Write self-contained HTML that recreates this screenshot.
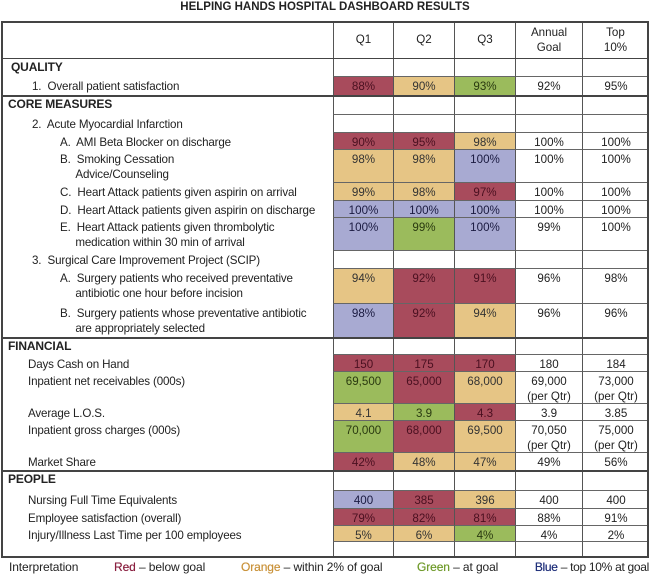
<!DOCTYPE html>
<html><head><meta charset="utf-8">
<style>
body{margin:0;background:#fff;font-family:"Liberation Sans",Arial,sans-serif;color:#222;}
#page{position:relative;width:650px;height:574px;overflow:hidden;}
.c{position:absolute;box-sizing:border-box;font-size:11.6px;line-height:15px;}
.v{text-align:center;padding-top:2px;border-right:1px solid #555;border-bottom:1px solid #666;}
.lbl{padding-top:2px;white-space:nowrap;letter-spacing:-0.15px;}
.hl{position:absolute;background:#444;}
.leg{position:absolute;top:560px;font-size:12px;white-space:nowrap;letter-spacing:-0.1px;}
</style></head><body>
<div id="page">
<div class="c" style="left:0;top:0;width:650px;text-align:center;font-weight:bold;font-size:11.5px;line-height:14px;">HELPING HANDS HOSPITAL DASHBOARD RESULTS</div>
<div id="tbl" style="position:absolute;left:1px;top:21px;width:648px;height:537px;border:2px solid #444;box-sizing:border-box;"></div>
<div class="leg" style="left:9px;">Interpretation</div>
<div class="leg" style="left:114px;"><b style="color:#8a2040;font-weight:normal;text-shadow:0 0 0.4px #8a2040">Red</b> – below goal</div>
<div class="leg" style="left:241px;"><b style="color:#c9923a;font-weight:normal;text-shadow:0 0 0.4px #c9923a">Orange</b> – within 2% of goal</div>
<div class="leg" style="left:417px;"><b style="color:#6f9a2a;font-weight:normal;text-shadow:0 0 0.4px #6f9a2a">Green</b> – at goal</div>
<div class="leg" style="right:1px;letter-spacing:-0.3px;"><b style="color:#1f2f7a;font-weight:normal;text-shadow:0 0 0.4px #1f2f7a">Blue</b> – top 10% at goal</div>
</div>
<script>
const colX=[333,394,455,516,583,649];
const colors={R:'#a84b5c',O:'#e6c585',G:'#9bbb5c',B:'#a8aad2',W:'#fff'};
const txtCol={R:'#4a1020',O:'#333',G:'#2a3a10',B:'#1a1a40',W:'#222'};
// [label, indentX, top, bottom, sectionHeader, values, cellColors, goal, top10]
const rows=[
['QUALITY',11,59,77,1,['','',''],'WWW','',''],
['1.&nbsp; Overall patient satisfaction',32,77,96,0,['88%','90%','93%'],'ROG','92%','95%'],
['CORE MEASURES',8,96,115,1,['','',''],'WWW','',''],
['2.&nbsp; Acute Myocardial Infarction',32,115,133,0,['','',''],'WWW','',''],
['A.&nbsp; AMI Beta Blocker on discharge',60,133,150,0,['90%','95%','98%'],'RRO','100%','100%'],
['B.&nbsp; Smoking Cessation<br>&nbsp;&nbsp;&nbsp;&nbsp;&nbsp;Advice/Counseling',60,150,183,0,['98%','98%','100%'],'OOB','100%','100%'],
['C.&nbsp; Heart Attack patients given aspirin on arrival',60,183,201,0,['99%','98%','97%'],'OOR','100%','100%'],
['D.&nbsp; Heart Attack patients given aspirin on discharge',60,201,218,0,['100%','100%','100%'],'BBB','100%','100%'],
['E.&nbsp; Heart Attack patients given thrombolytic<br>&nbsp;&nbsp;&nbsp;&nbsp;&nbsp;medication within 30 min of arrival',60,218,251,0,['100%','99%','100%'],'BGB','99%','100%'],
['3.&nbsp; Surgical Care Improvement Project (SCIP)',32,251,269,0,['','',''],'WWW','',''],
['A.&nbsp; Surgery patients who received preventative<br>&nbsp;&nbsp;&nbsp;&nbsp;&nbsp;antibiotic one hour before incision',60,269,304,0,['94%','92%','91%'],'ORR','96%','98%'],
['B.&nbsp; Surgery patients whose preventative antibiotic<br>&nbsp;&nbsp;&nbsp;&nbsp;&nbsp;are appropriately selected',60,304,338,0,['98%','92%','94%'],'BRO','96%','96%'],
['FINANCIAL',8,338,355,1,['','',''],'WWW','',''],
['Days Cash on Hand',28,355,372,0,['150','175','170'],'RRR','180','184'],
['Inpatient net receivables (000s)',28,372,404,0,['69,500','65,000','68,000'],'GRO','69,000<br>(per Qtr)','73,000<br>(per Qtr)'],
['Average L.O.S.',28,404,421,0,['4.1','3.9','4.3'],'OGR','3.9','3.85'],
['Inpatient gross charges (000s)',28,421,453,0,['70,000','68,000','69,500'],'GRO','70,050<br>(per Qtr)','75,000<br>(per Qtr)'],
['Market Share',28,453,471,0,['42%','48%','47%'],'ROO','49%','56%'],
['PEOPLE',8,471,491,1,['','',''],'WWW','',''],
['Nursing Full Time Equivalents',28,491,509,0,['400','385','396'],'BRO','400','400'],
['Employee satisfaction (overall)',28,509,526,0,['79%','82%','81%'],'RRR','88%','91%'],
['Injury/Illness Last Time per 100 employees',28,526,542,0,['5%','6%','4%'],'OOG','4%','2%'],
['',28,542,558,0,['','',''],'WWW','','']
];
const page=document.getElementById('page');
function cell(x,y,w,h,html,cls,bg,col,name){
  const d=document.createElement('div');
  d.className='c '+cls;
  d.style.left=x+'px';d.style.top=y+'px';d.style.width=w+'px';d.style.height=h+'px';
  if(bg)d.style.background=bg;
  if(col)d.style.color=col;
  d.innerHTML=html;
  
  
  page.appendChild(d);return d;
}
const heads=['Q1','Q2','Q3','Annual<br>Goal','Top<br>10%'];
heads.forEach((h,i)=>{
  const d=cell(colX[i],21,colX[i+1]-colX[i],38,h,'v','#fff','#222','header-'+i);
  d.style.display='flex';d.style.alignItems='center';d.style.justifyContent='center';d.style.paddingTop='0';
  if(i===0)d.style.borderLeft='1px solid #555';
});
const hl0=document.createElement('div');hl0.className='hl';
hl0.style.cssText='left:1px;top:58px;width:648px;height:1px;';


page.appendChild(hl0);
rows.forEach((r,ri)=>{
  const [label,ix,t,b,sec,vals,cc,goal,top]=r;
  const h=b-t;
  const l=cell(ix,t,333-ix-2,h,label,'lbl',null,'#222','row-label-'+ri);
  if(sec){l.style.fontWeight='bold';l.style.paddingTop='1px';l.style.fontSize='12px';}
  for(let i=0;i<3;i++){
    const k=cc[i];
    const d=cell(colX[i],t,colX[i+1]-colX[i],h,vals[i],'v',colors[k],txtCol[k],'value-q'+(i+1)+'-'+ri);
    d.style.borderLeft=i===0?'1px solid #555':'';
  }
  cell(colX[3],t,colX[4]-colX[3],h,goal,'v','#fff','#222','goal-'+ri);
  const tp=cell(colX[4],t,colX[5]-colX[4],h,top,'v','#fff','#222','top10-'+ri);
  tp.style.borderRight='none';
  if(sec && t>59){
    const s=document.createElement('div');s.className='hl';
    s.style.cssText='left:1px;top:'+(t-1)+'px;width:648px;height:2px;';
    
    
    page.appendChild(s);
  }
});
const ob=document.createElement('div');
ob.style.cssText='position:absolute;left:1px;top:21px;width:648px;height:537px;border:2px solid #444;box-sizing:border-box;pointer-events:none;';


page.appendChild(ob);
</script>
</body></html>
